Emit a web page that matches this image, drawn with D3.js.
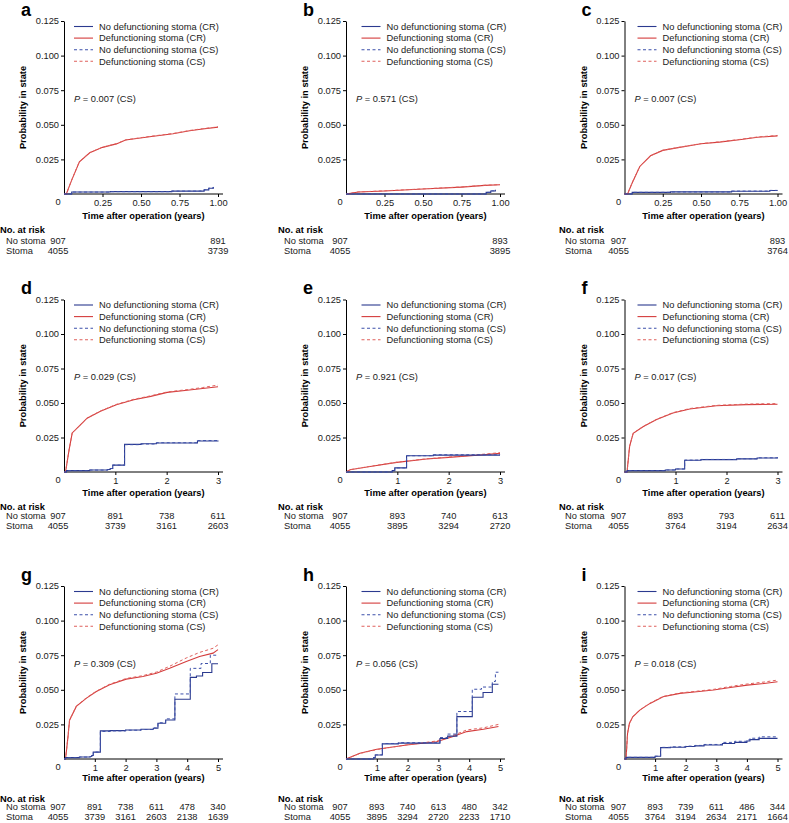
<!DOCTYPE html>
<html>
<head>
<meta charset="utf-8">
<script src="https://cdn.jsdelivr.net/npm/d3@7"></script>
<style>
	body { margin: 0; background: #fff; }
	svg { display: block; font-family: "Liberation Sans", Arial, Helvetica, sans-serif; }
</style>
</head>
<body>
<svg id="chart" width="789" height="823"></svg>
<script>
	"use strict";

	// panel letters, p values and follow-up horizon (years)
	var aPanels = ["a", "b", "c", "d", "e", "f", "g", "h", "i"];
	var aPValues = ["0.007", "0.571", "0.007", "0.029", "0.921", "0.017", "0.309", "0.056", "0.018"];
	var aHorizons = [1, 1, 1, 3, 3, 3, 5, 5, 5];

	var aYTicks = [0.025, 0.05, 0.075, 0.1, 0.125];
	var aXTicks1 = [0.25, 0.5, 0.75, 1];
	var aXTicks3 = [1, 2, 3];
	var aXTicks5 = [1, 2, 3, 4, 5];

	var aSeriesNames = ["No defunctioning stoma (CR)", "Defunctioning stoma (CR)",
		"No defunctioning stoma (CS)", "Defunctioning stoma (CS)"];

	// numbers at risk
	var aRiskTimes1 = [0, 1];
	var aRiskTimes3 = [0, 1, 2, 3];
	var aRiskTimes5 = [0, 1, 2, 3, 4, 5];
	var aNoStomaRisk = [
		[907, 891], [907, 893], [907, 893],
		[907, 891, 738, 611], [907, 893, 740, 613], [907, 893, 793, 611],
		[907, 891, 738, 611, 478, 340], [907, 893, 740, 613, 480, 342], [907, 893, 739, 611, 486, 344]
	];
	var aStomaRisk = [
		[4055, 3739], [4055, 3895], [4055, 3764],
		[4055, 3739, 3161, 2603], [4055, 3895, 3294, 2720], [4055, 3764, 3194, 2634],
		[4055, 3739, 3161, 2603, 2138, 1639], [4055, 3895, 3294, 2720, 2233, 1710], [4055, 3764, 3194, 2634, 2171, 1664]
	];

	// curves [years, probability]
	var noStomaCR_a = [[0, 0], [0.05, 0.0014], [0.3, 0.0017], [0.7, 0.0021], [0.88, 0.0021], [0.91, 0.003], [0.94, 0.0042], [0.97, 0.005]];
	var stomaCR_a = [[0, 0], [0.015, 0], [0.05, 0.010], [0.1, 0.0233], [0.167, 0.0298], [0.25, 0.0337], [0.34, 0.0362], [0.4, 0.039], [0.556, 0.0414], [0.708, 0.0435], [0.816, 0.0457], [0.9, 0.047], [1, 0.0483]];
	var noStomaCS_a = [[0, 0], [0.05, 0.0014], [0.3, 0.0017], [0.7, 0.0021], [0.88, 0.0022], [0.91, 0.0031], [0.94, 0.0043], [0.97, 0.0051]];
	var stomaCS_a = [[0, 0], [0.015, 0], [0.05, 0.0101], [0.1, 0.0234], [0.167, 0.0299], [0.25, 0.0338], [0.34, 0.0363], [0.4, 0.0391], [0.556, 0.0416], [0.708, 0.0437], [0.816, 0.0459], [0.9, 0.0472], [1, 0.0485]];

	var noStomaCR_b = [[0, 0], [0.88, 0], [0.91, 0.0012], [0.94, 0.0022], [0.97, 0.003]];
	var stomaCR_b = [[0, 0], [0.08, 0.0015], [0.25, 0.0022], [0.5, 0.0036], [0.75, 0.005], [0.9, 0.0062], [1, 0.0067]];
	var noStomaCS_b = [[0, 0], [0.88, 0], [0.91, 0.0012], [0.94, 0.0023], [0.97, 0.0031]];
	var stomaCS_b = [[0, 0], [0.08, 0.0015], [0.25, 0.0023], [0.5, 0.0037], [0.75, 0.0051], [0.9, 0.0063], [1, 0.0068]];

	var noStomaCR_c = [[0, 0], [0.05, 0.0012], [0.3, 0.0015], [0.7, 0.002], [0.95, 0.0025], [1, 0.0025]];
	var stomaCR_c = [[0, 0], [0.02, 0], [0.05, 0.008], [0.1, 0.0199], [0.17, 0.0276], [0.25, 0.0315], [0.35, 0.0335], [0.5, 0.0363], [0.62, 0.0375], [0.75, 0.0392], [0.87, 0.041], [1, 0.042]];
	var noStomaCS_c = [[0, 0], [0.05, 0.0012], [0.3, 0.0015], [0.7, 0.0021], [0.95, 0.0026], [1, 0.0026]];
	var stomaCS_c = [[0, 0], [0.02, 0], [0.05, 0.0081], [0.1, 0.02], [0.17, 0.0277], [0.25, 0.0316], [0.35, 0.0336], [0.5, 0.0364], [0.62, 0.0377], [0.75, 0.0394], [0.87, 0.0412], [1, 0.0423]];

	var noStomaCR_d = [[0, 0], [0.05, 0.001], [0.5, 0.0014], [0.85, 0.0018], [0.9, 0.0025], [0.95, 0.005], [1.18, 0.02], [1.5, 0.0205], [1.8, 0.021], [2.6, 0.0225], [3, 0.0228]];
	var stomaCR_d = [[0, 0], [0.03, 0], [0.1, 0.0162], [0.16, 0.0283], [0.29, 0.033], [0.45, 0.039], [0.71, 0.044], [1.02, 0.0488], [1.36, 0.0524], [1.69, 0.0548], [2.01, 0.0577], [2.4, 0.0592], [2.7, 0.0605], [3, 0.0618]];
	var noStomaCS_d = [[0, 0], [0.05, 0.001], [0.5, 0.0014], [0.85, 0.0018], [0.9, 0.0025], [0.95, 0.005], [1.18, 0.0198], [1.5, 0.0203], [1.8, 0.0212], [2.6, 0.0228], [3, 0.0232]];
	var stomaCS_d = [[0, 0], [0.03, 0], [0.1, 0.0163], [0.16, 0.0284], [0.29, 0.0331], [0.45, 0.0391], [0.71, 0.0442], [1.02, 0.049], [1.36, 0.0527], [1.69, 0.0552], [2.01, 0.058], [2.4, 0.0597], [2.7, 0.0612], [3, 0.063]];

	var noStomaCR_e = [[0, 0], [0.85, 0], [0.9, 0.001], [0.95, 0.003], [1.18, 0.0118], [1.7, 0.0122], [3, 0.0122]];
	var stomaCR_e = [[0, 0], [0.08, 0.0017], [0.47, 0.004], [0.99, 0.007], [1.57, 0.0094], [2, 0.0106], [2.5, 0.012], [3, 0.0135]];
	var noStomaCS_e = [[0, 0], [0.85, 0], [0.9, 0.001], [0.95, 0.003], [1.18, 0.0118], [1.7, 0.0125], [3, 0.0126]];
	var stomaCS_e = [[0, 0], [0.08, 0.0017], [0.47, 0.0041], [0.99, 0.0071], [1.57, 0.0096], [2, 0.0108], [2.5, 0.0123], [3, 0.014]];

	var noStomaCR_f = [[0, 0], [0.05, 0.001], [0.8, 0.0015], [1, 0.0022], [1.18, 0.0085], [1.5, 0.009], [2.2, 0.0095], [2.6, 0.0101], [3, 0.0105]];
	var stomaCR_f = [[0, 0], [0.05, 0], [0.1, 0.0186], [0.17, 0.028], [0.37, 0.033], [0.63, 0.038], [0.95, 0.0428], [1.28, 0.0457], [1.8, 0.048], [2.38, 0.0488], [3, 0.0491]];
	var noStomaCS_f = [[0, 0], [0.05, 0.001], [0.8, 0.0015], [1, 0.0022], [1.18, 0.0086], [1.5, 0.0091], [2.2, 0.0096], [2.6, 0.0103], [3, 0.0108]];
	var stomaCS_f = [[0, 0], [0.05, 0], [0.1, 0.0187], [0.17, 0.0281], [0.37, 0.0331], [0.63, 0.0382], [0.95, 0.043], [1.28, 0.046], [1.8, 0.0483], [2.38, 0.0492], [3, 0.0496]];

	var noStomaCR_g = [[0, 0], [0.05, 0.001], [0.5, 0.0014], [0.85, 0.0018], [0.9, 0.0025], [0.95, 0.005], [1.18, 0.0203], [1.5, 0.0205], [2, 0.021], [2.5, 0.0215], [2.9, 0.0222], [3.05, 0.0258], [3.3, 0.0282], [3.6, 0.0432], [4.1, 0.059], [4.3, 0.06], [4.5, 0.0625], [4.8, 0.0688], [5, 0.0688]];
	var stomaCR_g = [[0, 0], [0.05, 0], [0.13, 0.0162], [0.18, 0.028], [0.4, 0.038], [0.73, 0.044], [1.05, 0.0487], [1.48, 0.0536], [2.02, 0.0577], [2.56, 0.0596], [3, 0.062], [3.43, 0.0656], [3.97, 0.0705], [4.4, 0.074], [4.84, 0.0765], [5, 0.079]];
	var noStomaCS_g = [[0, 0], [0.05, 0.001], [0.5, 0.0014], [0.85, 0.0018], [0.9, 0.0025], [0.95, 0.005], [1.18, 0.0199], [1.5, 0.0203], [2, 0.0208], [2.5, 0.0213], [2.9, 0.0225], [3.05, 0.0262], [3.3, 0.029], [3.6, 0.047], [4.1, 0.0655], [4.45, 0.069], [4.75, 0.075], [5, 0.075]];
	var stomaCS_g = [[0, 0], [0.05, 0], [0.13, 0.0163], [0.18, 0.0281], [0.4, 0.0382], [0.73, 0.0443], [1.05, 0.049], [1.48, 0.054], [2.02, 0.0582], [2.56, 0.0602], [3, 0.0628], [3.43, 0.067], [3.97, 0.073], [4.4, 0.077], [4.84, 0.08], [5, 0.0825]];

	var noStomaCR_h = [[0, 0], [0.8, 0], [0.9, 0.001], [0.95, 0.0029], [1.18, 0.0109], [1.7, 0.0115], [3, 0.0115], [3.05, 0.0148], [3.3, 0.0165], [3.6, 0.0306], [4.1, 0.0446], [4.45, 0.048], [4.75, 0.054], [4.95, 0.054]];
	var stomaCR_h = [[0, 0], [0.45, 0.0041], [1, 0.007], [1.97, 0.0101], [2.94, 0.0125], [3.48, 0.0162], [3.92, 0.0198], [4.46, 0.0215], [4.95, 0.0235]];
	var noStomaCS_h = [[0, 0], [0.8, 0], [0.9, 0.001], [0.95, 0.003], [1.18, 0.0112], [1.7, 0.0118], [3, 0.0118], [3.05, 0.0155], [3.3, 0.018], [3.6, 0.0343], [4.1, 0.0504], [4.4, 0.052], [4.75, 0.056], [4.85, 0.0627], [4.95, 0.0627]];
	var stomaCS_h = [[0, 0], [0.45, 0.004], [1, 0.0068], [1.97, 0.0102], [2.94, 0.013], [3.48, 0.017], [3.92, 0.021], [4.46, 0.0225], [4.95, 0.025]];

	var noStomaCR_i = [[0, 0], [0.05, 0.0012], [1, 0.002], [1.18, 0.0082], [1.5, 0.0085], [2, 0.009], [2.3, 0.0095], [2.6, 0.0101], [3.2, 0.0112], [3.6, 0.012], [4, 0.013], [4.1, 0.014], [4.4, 0.0149], [5, 0.0149]];
	var stomaCR_i = [[0, 0], [0.05, 0], [0.1, 0.0185], [0.16, 0.0257], [0.27, 0.0305], [0.5, 0.0353], [0.82, 0.04], [1.26, 0.045], [1.81, 0.0474], [2.36, 0.0486], [2.91, 0.0498], [3.46, 0.0517], [4.01, 0.0534], [4.56, 0.0546], [5, 0.0558]];
	var noStomaCS_i = [[0, 0], [0.05, 0.0012], [1, 0.002], [1.18, 0.0084], [1.5, 0.0088], [2, 0.0093], [2.3, 0.0098], [2.6, 0.0105], [3.2, 0.012], [3.6, 0.0128], [4, 0.0138], [4.1, 0.015], [4.4, 0.016], [5, 0.016]];
	var stomaCS_i = [[0, 0], [0.05, 0], [0.1, 0.0186], [0.16, 0.0258], [0.27, 0.0306], [0.5, 0.0354], [0.82, 0.0402], [1.26, 0.0452], [1.81, 0.0477], [2.36, 0.049], [2.91, 0.0503], [3.46, 0.0524], [4.01, 0.0542], [4.56, 0.0556], [5, 0.057]];

	var aCurves = [
		[noStomaCR_a, stomaCR_a, noStomaCS_a, stomaCS_a],
		[noStomaCR_b, stomaCR_b, noStomaCS_b, stomaCS_b],
		[noStomaCR_c, stomaCR_c, noStomaCS_c, stomaCS_c],
		[noStomaCR_d, stomaCR_d, noStomaCS_d, stomaCS_d],
		[noStomaCR_e, stomaCR_e, noStomaCS_e, stomaCS_e],
		[noStomaCR_f, stomaCR_f, noStomaCS_f, stomaCS_f],
		[noStomaCR_g, stomaCR_g, noStomaCS_g, stomaCS_g],
		[noStomaCR_h, stomaCR_h, noStomaCS_h, stomaCS_h],
		[noStomaCR_i, stomaCR_i, noStomaCS_i, stomaCS_i]
	];

	// layout of the 3x3 grid
	var aColX = [[64, 218], [346, 500], [624.5, 777.5]];
	var aRowY = [[194, 21], [472, 299.5], [759, 586]];
	var aTableX = [0, 278, 559];
	var aTableY = [[233.3, 243.5, 254], [510, 518.5, 529.3], [801.6, 810, 820]];
	var aTitleDy = [24.5, 24, 22];
	var aLegendDx = [10, 15.5, 13];
	var sFontSize = "9.3px";

	var aStyles = [
		{ color: "#2b3a8f", dash: null, width: 1.1 },
		{ color: "#d43c3c", dash: null, width: 1.1 },
		{ color: "#3d50aa", dash: "3,2.5", width: 1 },
		{ color: "#e0605c", dash: "3,2.5", width: 1 }
	];

	var svg = d3.select("#chart");
	svg.append("rect").attr("width", 789).attr("height", 823).attr("fill", "#fff");

	aPanels.forEach(function (sLetter, iPanel) {
		var iCol = iPanel % 3;
		var iRow = Math.floor(iPanel / 3);
		var iHorizon = aHorizons[iPanel];
		var x = d3.scaleLinear().domain([0, iHorizon]).range(aColX[iCol]);
		var y = d3.scaleLinear().domain([0, 0.125]).range(aRowY[iRow]);
		var fX0 = x(0), fY0 = y(0), fTop = y(0.125);

		var aXTicks = iHorizon === 1 ? aXTicks1 : (iHorizon === 3 ? aXTicks3 : aXTicks5);
		var aRiskTimes = iHorizon === 1 ? aRiskTimes1 : (iHorizon === 3 ? aRiskTimes3 : aRiskTimes5);

		var g = svg.append("g").attr("font-size", sFontSize).attr("fill", "#1a1a1a");

		// panel letter
		g.append("text").attr("x", fX0 - 43).attr("y", fTop - 5.5)
			.attr("font-size", "18px").attr("font-weight", "bold").attr("fill", "#000")
			.text(sLetter);

		// y axis
		var gY = g.append("g").attr("transform", "translate(" + fX0 + ",0)")
			.call(d3.axisLeft(y).tickValues(aYTicks).tickSize(3).tickSizeOuter(0).tickPadding(2)
				.tickFormat(d3.format(".3f")));
		// x axis
		var gX = g.append("g").attr("transform", "translate(0," + fY0 + ")")
			.call(d3.axisBottom(x).tickValues(aXTicks).tickSize(3).tickSizeOuter(0).tickPadding(2)
				.tickFormat(iHorizon === 1 ? d3.format(".2f") : d3.format("d")));
		gX.select(".domain").remove();
		g.append("line").attr("x1", fX0).attr("x2", x(iHorizon) + 5)
			.attr("y1", fY0).attr("y2", fY0).attr("stroke", "#000").attr("stroke-width", 1);

		[gX, gY].forEach(function (sel) {
			sel.attr("font-size", null).attr("font-family", null);
			sel.selectAll("text").attr("fill", "#1a1a1a");
			sel.selectAll("line, path").attr("stroke", "#000");
		});

		// shared zero at the corner
		g.append("text").attr("x", fX0 - 6).attr("y", fY0 + 11)
			.attr("text-anchor", "middle").text("0");

		// axis titles
		g.append("text")
			.attr("x", (fX0 + x(iHorizon) + 5) / 2).attr("y", fY0 + aTitleDy[iRow])
			.attr("text-anchor", "middle").attr("font-weight", "bold").attr("fill", "#000")
			.text("Time after operation (years)");
		g.append("text")
			.attr("transform", "translate(" + (fX0 - 38) + "," + ((fY0 + fTop) / 2) + ") rotate(-90)")
			.attr("text-anchor", "middle").attr("font-weight", "bold").attr("fill", "#000")
			.text("Probability in state");

		// curves: red drawn first so the blue steps stay on top
		[1, 3, 0, 2].forEach(function (iSeries) {
			var oStyle = aStyles[iSeries];
			var line = d3.line()
				.x(function (d) { return x(d[0]); })
				.y(function (d) { return y(d[1]); })
				.curve(iSeries % 2 === 0 ? d3.curveStepAfter : d3.curveLinear);
			g.append("path").datum(aCurves[iPanel][iSeries])
				.attr("d", line)
				.attr("fill", "none")
				.attr("stroke", oStyle.color)
				.attr("stroke-width", oStyle.width)
				.attr("stroke-dasharray", oStyle.dash);
		});

		// legend
		var fLx = fX0 + aLegendDx[iCol];
		aSeriesNames.forEach(function (sName, k) {
			var fLy = fTop + 5.5 + k * 11.6;
			g.append("line").attr("x1", fLx).attr("x2", fLx + 19)
				.attr("y1", fLy).attr("y2", fLy)
				.attr("stroke", aStyles[k].color).attr("stroke-width", 1.1)
				.attr("stroke-dasharray", aStyles[k].dash);
			g.append("text").attr("x", fLx + 25).attr("y", fLy + 3.3).text(sName);
		});

		// p value
		var selP = g.append("text").attr("x", fX0 + 10).attr("y", y(0.0688) + 3.3);
		selP.append("tspan").attr("font-style", "italic").text("P");
		selP.append("tspan").text(" = " + aPValues[iPanel] + " (CS)");

		// numbers at risk
		var aTy = aTableY[iRow];
		g.append("text").attr("x", aTableX[iCol]).attr("y", aTy[0])
			.attr("font-weight", "bold").attr("fill", "#000").text("No. at risk");
		g.append("text").attr("x", aTableX[iCol] + 6).attr("y", aTy[1]).text("No stoma");
		g.append("text").attr("x", aTableX[iCol] + 6).attr("y", aTy[2]).text("Stoma");
		[aNoStomaRisk[iPanel], aStomaRisk[iPanel]].forEach(function (aRow, r) {
			g.selectAll(null).data(aRow).enter().append("text")
				.attr("x", function (d, j) {
					return aRiskTimes[j] === 0 ? fX0 - 6 : x(aRiskTimes[j]);
				})
				.attr("y", aTy[r + 1])
				.attr("text-anchor", "middle")
				.text(function (d) { return d; });
		});
	});
</script>
</body>
</html>
